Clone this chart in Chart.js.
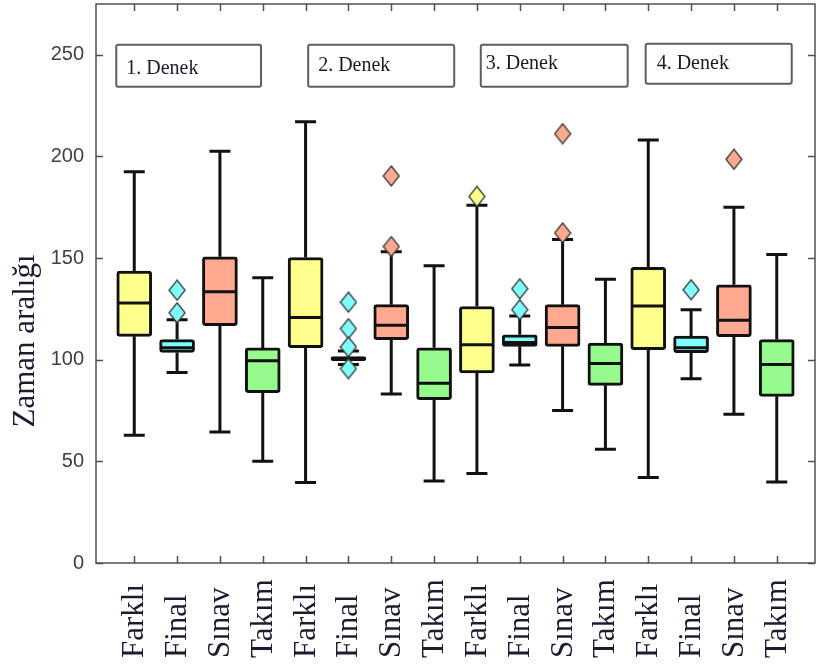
<!DOCTYPE html>
<html>
<head>
<meta charset="utf-8">
<script src="https://cdn.jsdelivr.net/npm/chart.js@4.4.0/dist/chart.umd.min.js"></script>
<style>
  html, body { margin: 0; padding: 0; background: #ffffff; }
  #wrap { width: 818px; height: 669px; }
</style>
</head>
<body>
<div id="wrap"><canvas id="c" width="818" height="669"></canvas></div>
<script>
// ---- data ----
const categories = ['Farklı','Final','Sınav','Takım','Farklı','Final','Sınav','Takım',
                    'Farklı','Final','Sınav','Takım','Farklı','Final','Sınav','Takım'];
const groupLabels = ['1. Denek','2. Denek','3. Denek','4. Denek'];
const whiskerLow  = [62.9, 93.7, 64.5, 50.1, 39.6, 97.7, 83.2, 40.4, 44.0, 97.4, 75.0, 56.0, 42.1, 90.7, 73.2, 39.9];
const q1          = [111.5,103.6,116.7, 83.8,105.9, 99.5,109.9, 80.4, 93.5,106.6,106.6, 87.4,104.9,103.5,111.3, 82.0];
const medianVals  = [127.9,105.9,133.4, 99.5,120.8,100.5,116.9, 88.4,107.4,108.5,115.9, 98.1,126.4,105.9,119.4, 97.7];
const q3          = [143.6,109.9,150.6,105.8,150.3,101.5,127.1,105.9,126.2,112.3,127.1,108.2,145.5,111.6,136.9,109.9];
const whiskerHigh = [192.5,119.7,202.5,140.3,217.1,104.3,153.1,146.2,176.0,121.5,159.1,139.6,208.1,124.6,175.0,151.8];
const outlierVals = [[],[134.2,123.1],[],[],[],[128.3,115.3,106.3,95.6],[190.4,155.7],[],
                     [180.3],[134.9,124.6],[211.2,162.4],[],[],[134.4],[198.6],[]];
const yTickValues = [0, 50, 100, 150, 200, 250];
const yTitle = 'Zaman aralığı';

// ---- styling ----
const catColors = { 'Farklı': '#FFFF8C', 'Final': '#80FFFF', 'Sınav': '#FFAA90', 'Takım': '#96FA8C' };
const BOX_W = 35, CAP_W = 21, LINE = '#111111';
// group label boxes (in data units of the two scales)
const groupBoxes = [
  { x0: 0.58,  x1: 3.96,  y0: 234.3, y1: 254.9, dx: 10, dy: 29 },
  { x0: 5.06,  x1: 8.47,  y0: 234.3, y1: 254.9, dx: 10, dy: 26 },
  { x0: 9.09,  x1: 12.52, y0: 234.3, y1: 254.9, dx: 5,  dy: 24 },
  { x0: 12.94, x1: 16.35, y0: 235.8, y1: 255.4, dx: 11, dy: 25 }
];

// diamond marker images (taller than wide)
const diamondCache = {};
function diamond(color) {
  if (diamondCache[color]) return diamondCache[color];
  const w = 18, h = 22;
  const cv = document.createElement('canvas');
  cv.width = w; cv.height = h;
  const g = cv.getContext('2d');
  g.beginPath();
  g.moveTo(w / 2, 1); g.lineTo(w - 1, h / 2); g.lineTo(w / 2, h - 1); g.lineTo(1, h / 2);
  g.closePath();
  g.fillStyle = color; g.fill();
  g.lineWidth = 1.3; g.strokeStyle = '#3a3a3a'; g.stroke();
  diamondCache[color] = cv;
  return cv;
}

const positions = categories.map((_, i) => i + 1);
const boxData = positions.map((p, i) => ({ x: p, y: [q1[i], q3[i]] }));
const outlierData = [];
const outlierStyles = [];
outlierVals.forEach((arr, i) => arr.forEach(v => {
  outlierData.push({ x: positions[i], y: v });
  outlierStyles.push(diamond(catColors[categories[i]]));
}));

const boxPlugin = {
  id: 'boxParts',
  beforeDatasetsDraw(chart) {
    const { ctx, scales: { x, y } } = chart;
    ctx.save();
    ctx.strokeStyle = LINE;
    ctx.lineWidth = 3;
    ctx.lineCap = 'butt';
    positions.forEach((p, i) => {
      const px = x.getPixelForValue(p);
      const yl = y.getPixelForValue(whiskerLow[i]);
      const yh = y.getPixelForValue(whiskerHigh[i]);
      const yq1 = y.getPixelForValue(q1[i]);
      const yq3 = y.getPixelForValue(q3[i]);
      ctx.beginPath();
      ctx.moveTo(px, yq3); ctx.lineTo(px, yh);
      ctx.moveTo(px, yq1); ctx.lineTo(px, yl);
      ctx.moveTo(px - CAP_W / 2, yh); ctx.lineTo(px + CAP_W / 2, yh);
      ctx.moveTo(px - CAP_W / 2, yl); ctx.lineTo(px + CAP_W / 2, yl);
      ctx.stroke();
    });
    ctx.restore();
  },
  afterDatasetDraw(chart, args) {
    if (args.index !== 0) return;
    const { ctx, scales: { x, y } } = chart;
    ctx.save();
    ctx.strokeStyle = LINE;
    ctx.lineWidth = 3;
    positions.forEach((p, i) => {
      const px = x.getPixelForValue(p);
      const ym = y.getPixelForValue(medianVals[i]);
      ctx.beginPath();
      ctx.moveTo(px - BOX_W / 2 + 1, ym); ctx.lineTo(px + BOX_W / 2 - 1, ym);
      ctx.stroke();
    });
    ctx.restore();
  },
  afterDraw(chart) {
    const { ctx, chartArea: a, scales: { x, y } } = chart;
    ctx.save();
    // frame
    ctx.strokeStyle = '#505050';
    ctx.lineWidth = 1.5;
    ctx.strokeRect(a.left, a.top, a.right - a.left, a.bottom - a.top);
    // inward ticks
    ctx.beginPath();
    positions.forEach(p => {
      const px = Math.round(x.getPixelForValue(p)) + 0.5;
      ctx.moveTo(px, a.bottom); ctx.lineTo(px, a.bottom - 7);
      ctx.moveTo(px, a.top); ctx.lineTo(px, a.top + 7);
    });
    yTickValues.forEach(v => {
      const py = Math.round(y.getPixelForValue(v)) + 0.5;
      ctx.moveTo(a.left, py); ctx.lineTo(a.left + 7, py);
      ctx.moveTo(a.right, py); ctx.lineTo(a.right - 7, py);
    });
    ctx.stroke();

    // x category labels (rotated, start-aligned at bottom)
    ctx.fillStyle = '#1c1c30';
    ctx.font = '31px "Liberation Serif", "Times New Roman", serif';
    ctx.textAlign = 'left';
    ctx.textBaseline = 'alphabetic';
    positions.forEach((p, i) => {
      const px = x.getPixelForValue(p);
      ctx.save();
      ctx.translate(px + 9, 658);
      ctx.rotate(-Math.PI / 2);
      ctx.fillText(categories[i], 0, 0);
      ctx.restore();
    });

    // y title
    ctx.save();
    ctx.translate(34, 341);
    ctx.rotate(-Math.PI / 2);
    ctx.textAlign = 'center';
    ctx.fillText(yTitle, 0, 0);
    ctx.restore();

    // group label boxes
    groupBoxes.forEach((b, i) => {
      const l = x.getPixelForValue(b.x0), r = x.getPixelForValue(b.x1);
      const t = y.getPixelForValue(b.y1), btm = y.getPixelForValue(b.y0);
      ctx.fillStyle = '#ffffff';
      ctx.strokeStyle = '#5e5e5e';
      ctx.lineWidth = 2;
      ctx.beginPath();
      ctx.roundRect(l, t, r - l, btm - t, 2);
      ctx.fill();
      ctx.stroke();
      ctx.fillStyle = '#1a1a28';
      ctx.font = '20px "Liberation Serif", "Times New Roman", serif';
      ctx.textAlign = 'left';
      ctx.textBaseline = 'alphabetic';
      ctx.fillText(groupLabels[i], l + b.dx, t + b.dy);
    });
    ctx.restore();
  }
};

new Chart(document.getElementById('c'), {
  type: 'bar',
  data: {
    datasets: [
      {
        type: 'bar',
        data: boxData,
        backgroundColor: categories.map(c => catColors[c]),
        borderColor: LINE,
        borderWidth: 3,
        borderRadius: 3,
        borderSkipped: false,
        barThickness: BOX_W,
        order: 2
      },
      {
        type: 'scatter',
        data: outlierData,
        pointStyle: outlierStyles,
        pointRadius: 9,
        clip: false,
        order: 1
      }
    ]
  },
  options: {
    responsive: false,
    devicePixelRatio: 1,
    animation: false,
    layout: { autoPadding: false, padding: { top: 4, right: 3, bottom: 106, left: 0 } },
    plugins: { legend: { display: false }, tooltip: { enabled: false } },
    scales: {
      x: {
        type: 'linear',
        display: false,
        min: 0.107,
        max: 16.893,
        offset: false
      },
      y: {
        type: 'linear',
        min: 0,
        max: 275,
        border: { display: false },
        grid: { display: false, drawTicks: false },
        ticks: {
          stepSize: 50,
          includeBounds: false,
          padding: 12,
          color: '#404040',
          font: { family: '"Liberation Sans", Arial, sans-serif', size: 20 }
        },
        afterBuildTicks(scale) { scale.ticks = yTickValues.map(v => ({ value: v })); },
        afterFit(scale) { scale.width = 96; scale.paddingTop = 0; scale.paddingBottom = 0; }
      }
    }
  },
  plugins: [boxPlugin]
});
</script>
</body>
</html>
